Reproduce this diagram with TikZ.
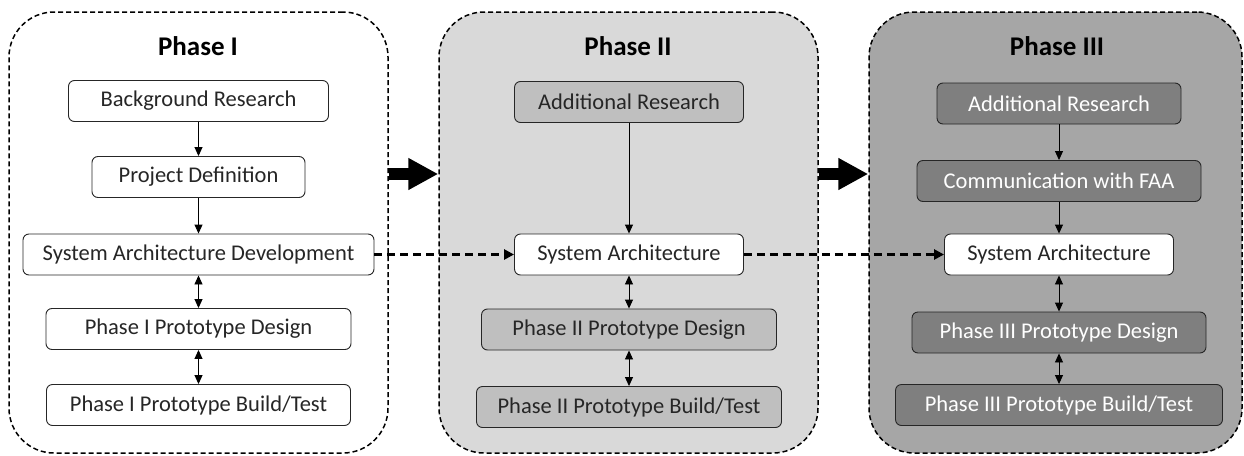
\documentclass[tikz,border=0pt]{standalone}
\usepackage{fontspec}
\setmainfont{Carlito}
\usepackage{xcolor}
\usepackage{tikz}
\usetikzlibrary{arrows.meta}

\definecolor{textgray}{HTML}{262626}
\definecolor{panelB}{HTML}{D9D9D9}
\definecolor{panelC}{HTML}{A6A6A6}
\definecolor{boxB}{HTML}{BFBFBF}
\definecolor{boxC}{HTML}{7F7F7F}

\begin{document}
\begin{tikzpicture}[x=1pt,y=-1pt,
  panel/.style={draw=black,line width=1.5pt,dash pattern=on 5pt off 3pt,
    rounded corners=45pt,minimum width=379pt,minimum height=441pt,inner sep=0pt},
  title/.style={font=\fontsize{27}{30}\selectfont\bfseries,text=black},
  box/.style={draw=black!85,line width=0.9pt,rounded corners=6pt,fill=white,
    minimum height=41pt,inner sep=0pt,font=\fontsize{22.5}{26}\selectfont,text=textgray},
  boxii/.style={box,fill=boxB},
  boxiii/.style={box,fill=boxC,text=white},
  flow/.style={line width=0.9pt,-{Triangle[length=9pt,width=8pt]}},
  both/.style={line width=0.9pt,{Triangle[length=9pt,width=8pt]}-{Triangle[length=9pt,width=8pt]}},
  link/.style={line width=3pt,dash pattern=on 8pt off 5pt,-{Triangle[length=10pt,width=10pt]}},
  bigarrow/.style={line width=12pt,-{Triangle[length=30pt,width=30pt]}}]
\useasboundingbox (0,0) rectangle (1244,455);

% Panels
\node[panel] (pan1) at (198.5,232.5) {};
\node[panel,fill=panelB] (pan2) at (628.5,232.5) {};
\node[panel,fill=panelC,minimum width=373pt] (pan3) at (1055.5,232.5) {};

\node[title] (t1) at (198,46) {Phase I};
\node[title] (t2) at (628,46) {Phase II};
\node[title] (t3) at (1057,46) {Phase III};

% Phase I
\node[box,minimum width=260pt] (res1) at (198.5,101) {Background Research};
\node[box,minimum width=213pt] (def1) at (198.5,177) {Project Definition};
\node[box,minimum width=351pt] (arch1) at (198.5,254.5) {System Architecture Development};
\node[box,minimum width=305pt] (des1) at (198.5,329) {Phase I Prototype Design};
\node[box,minimum width=304pt] (bld1) at (198.5,405) {Phase I Prototype Build/Test};

% Phase II
\node[boxii,minimum width=229pt] (res2) at (629,102) {Additional Research};
\node[box,minimum width=229pt] (arch2) at (629,254.5) {System Architecture};
\node[boxii,minimum width=295pt] (des2) at (629,329.5) {Phase II Prototype Design};
\node[boxii,minimum width=305pt] (bld2) at (629,407) {Phase II Prototype Build/Test};

% Phase III
\node[boxiii,minimum width=244pt] (res3) at (1059,103.5) {Additional Research};
\node[boxiii,minimum width=284pt] (faa3) at (1059,181) {Communication with FAA};
\node[box,minimum width=229pt] (arch3) at (1059,254.5) {System Architecture};
\node[boxiii,minimum width=294pt] (des3) at (1059,332.5) {Phase III Prototype Design};
\node[boxiii,minimum width=327pt] (bld3) at (1059,405) {Phase III Prototype Build/Test};

% Flow inside phases
\draw[flow] (res1) -- (def1);
\draw[flow] (def1) -- (arch1);
\draw[both] (arch1) -- (des1);
\draw[both] (des1) -- (bld1);
\draw[flow] (res2) -- (arch2);
\draw[both] (arch2) -- (des2);
\draw[both] (des2) -- (bld2);
\draw[flow] (res3) -- (faa3);
\draw[flow] (faa3) -- (arch3);
\draw[both] (arch3) -- (des3);
\draw[both] (des3) -- (bld3);

% Between phases
\draw[link] (arch1) -- (arch2);
\draw[link] (arch2) -- (arch3);
\draw[bigarrow] ([yshift=58.5pt]pan1.east) -- ([yshift=58.5pt]pan2.west);
\draw[bigarrow] ([yshift=58.5pt]pan2.east) -- ([yshift=58.5pt]pan3.west);
\end{tikzpicture}
\end{document}
